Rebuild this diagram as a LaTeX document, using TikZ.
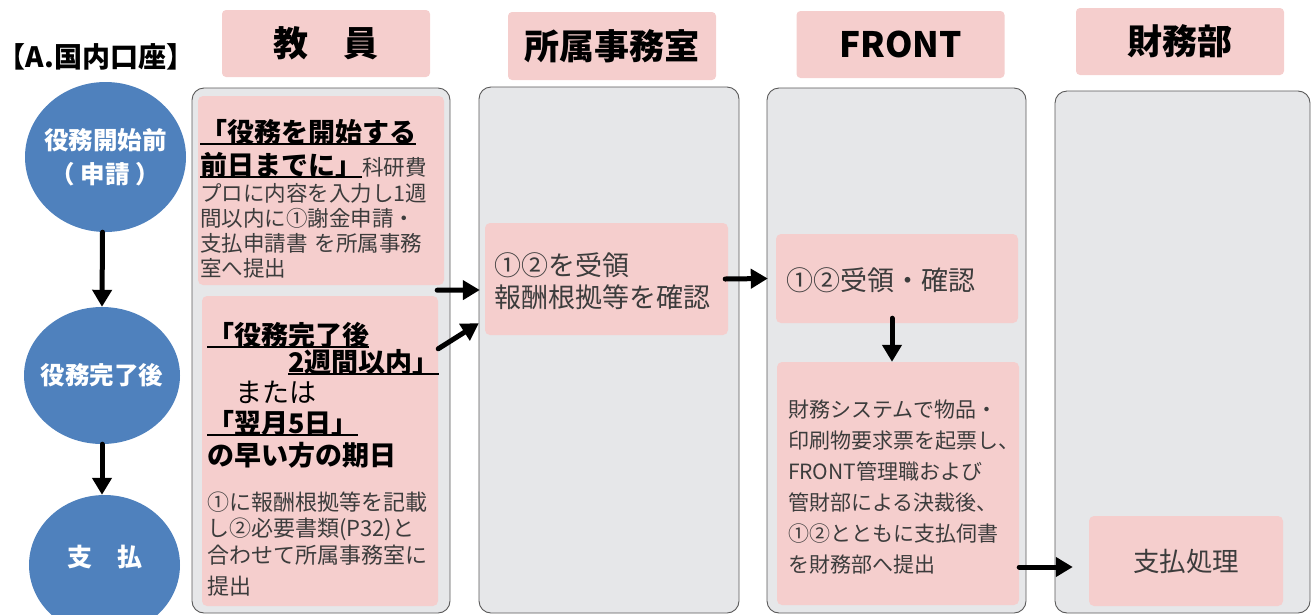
\documentclass[tikz,border=0pt]{standalone}
\usepackage{fontspec}
\setmainfont{Noto Sans CJK JP}
\usetikzlibrary{arrows.meta}
\usetikzlibrary{shapes.geometric}
\usetikzlibrary{calc}
\definecolor{lanegray}{RGB}{230,231,233}
\definecolor{boxpink}{RGB}{245,206,205}
\definecolor{phaseblue}{RGB}{79,129,189}
\definecolor{txtgray}{RGB}{60,60,60}
\newcommand{\ulin}[1]{\leavevmode\setbox0=\hbox{#1}\rlap{\rule[-3pt]{\wd0}{1.6pt}}\box0}
\newcommand{\bigb}{\leavevmode\fontsize{27}{25}\selectfont\bfseries\color{black}}
\tikzset{
  lane/.style={draw=black!65, line width=0.9pt, fill=lanegray, rounded corners=12pt},
  headbox/.style={fill=boxpink, rounded corners=4pt, minimum width=208pt, minimum height=67pt, font=\fontsize{35}{40}\selectfont\bfseries},
  pinkbox/.style={fill=boxpink, rounded corners=5pt, inner ysep=0pt, align=left, text=txtgray},
  phase/.style={ellipse, fill=phaseblue, text=white, inner sep=0pt, align=center, font=\fontsize{24.5}{34}\selectfont\bfseries},
  arr/.style={line width=5pt, line cap=round, -{Triangle[length=17pt,width=19pt]}},
}
\begin{document}
\begin{tikzpicture}[x=1pt, y=-1pt]
		\useasboundingbox (0,0) rectangle (1312,614);
		% lanes
		\node[lane, minimum width=258pt, minimum height=525pt] (lane1) at (321,350.5) {};
		\node[lane, minimum width=260pt, minimum height=526pt] (lane2) at (609,350) {};
		\node[lane, minimum width=259pt, minimum height=525pt] (lane3) at (896.5,350.5) {};
		\node[lane, minimum width=255pt, minimum height=522pt] (lane4) at (1182.5,352) {};
		% headers
		\node[font=\fontsize{28}{32}\selectfont\bfseries] (title) at (96,57) {【A.国内口座】};
		\node[headbox] (hteacher) at (326,43.5) {教　員};
		\node[headbox, minimum height=68pt] (hoffice) at (612,46) {所属事務室};
		\node[headbox] (hfront) at (900.5,44.5) {FRONT};
		\node[headbox] (hfinance) at (1180,41.5) {財務部};
		% phases
		\node[phase, minimum width=161pt, minimum height=150pt] (c1) at (105.5,157) {\makebox[0pt]{役務開始前}\\\makebox[0pt]{（ 申請 ）}};
		\node[phase, minimum width=156pt, minimum height=137pt] (c2) at (102,375.5) {\makebox[0pt]{役務完了後}};
		\node[phase, minimum width=151pt, minimum height=140pt, font=\fontsize{25}{34}\selectfont\bfseries] (c3) at (104.5,565) {\makebox[0pt]{支　払}\rule[-19pt]{0pt}{19pt}};
		% teacher
		\node[pinkbox, minimum width=246pt, minimum height=189pt, inner xsep=2pt, text width=242pt, font={\fontsize{21.5}{25}\selectfont\lineskiplimit=-100pt}] (t1) at (321,190.5) {%
			\rule{0pt}{42pt}{\bigb\ulin{「役務を開始する}}\\[8pt]
			{\bigb\ulin{前日までに」}}科研費\\[1pt]
			プロに内容を入力し1週\\
			間以内に①謝金申請・\\
			支払申請書 を所属事務\\
			室へ提出\rule[-5pt]{0pt}{5pt}};
		\node[pinkbox, minimum width=236pt, minimum height=310pt, inner xsep=5pt, text width=226pt, font={\fontsize{22}{26}\selectfont\lineskiplimit=-100pt}] (t2) at (320,451) {%
			\rule{0pt}{42pt}{\bigb\ulin{「役務完了後}}\\[1pt]
			\hspace*{81pt}{\bigb\ulin{2週間以内」}}\\[4pt]
			\hspace*{28pt}{\fontsize{27}{26}\selectfont\color{black}または}\\[5pt]
			{\bigb\ulin{「翌月5日」}}\\[6pt]
			{\bigb の早い方の期日}\\[19pt]
			①に報酬根拠等を記載\\
			し②必要書類(P32)と\\[1pt]
			合わせて所属事務室に\\[5pt]
			提出\rule[-5pt]{0pt}{5pt}};
		% office
		\node[pinkbox, minimum width=243pt, minimum height=112pt, inner xsep=9pt, text width=225pt, font={\fontsize{27}{32}\selectfont\lineskiplimit=-100pt}] (o1) at (606.5,279) {%
			\rule{0pt}{29pt}①②を受領\\
			報酬根拠等を確認\rule[-5pt]{0pt}{5pt}};
		% front
		\node[pinkbox, minimum width=242pt, minimum height=89pt, inner xsep=10pt, text width=222pt, font={\fontsize{27}{32}\selectfont\lineskiplimit=-100pt}] (f1) at (897,278.5) {%
			\rule[-5pt]{0pt}{33pt}①②受領・確認};
		\node[pinkbox, minimum width=242pt, minimum height=243pt, inner xsep=11pt, text width=220pt, font={\fontsize{21}{31}\selectfont\lineskiplimit=-100pt}] (f2) at (898,483.5) {%
			\rule{0pt}{27pt}財務システムで物品・\\
			印刷物要求票を起票し、\\
			FRONT管理職および\\
			管財部による決裁後、\\
			①②とともに支払伺書\\
			を財務部へ提出\rule[-5pt]{0pt}{5pt}};
		% finance
		\node[pinkbox, minimum width=194pt, minimum height=90pt, font=\fontsize{26.5}{32}\selectfont] (z1) at (1186,561) {支払処理};
		% arrows
		\draw[arr] ([xshift=-3pt]c1.south) -- (c2.north);
		\draw[arr] (c2.south) -- (c2.south |- c3.north);
		\draw[arr] ([xshift=-7pt,yshift=-5pt]t1.south east) -- ([xshift=-5pt,yshift=-11pt]o1.west);
		\draw[arr] ([yshift=-53pt]t2.north east) -- ([xshift=-6pt,yshift=12pt]o1.south west);
		\draw[arr] ([xshift=-3pt]o1.east) -- ([xshift=-8pt]f1.west);
		\draw[arr] ([xshift=-5pt,yshift=5pt]f1.south) -- ([xshift=-5pt]f1.south |- f2.north);
		\draw[arr] ([yshift=-83.5pt]f2.east) -- ([xshift=-16pt,yshift=-6pt]z1.west);
	\end{tikzpicture}
\end{document}
